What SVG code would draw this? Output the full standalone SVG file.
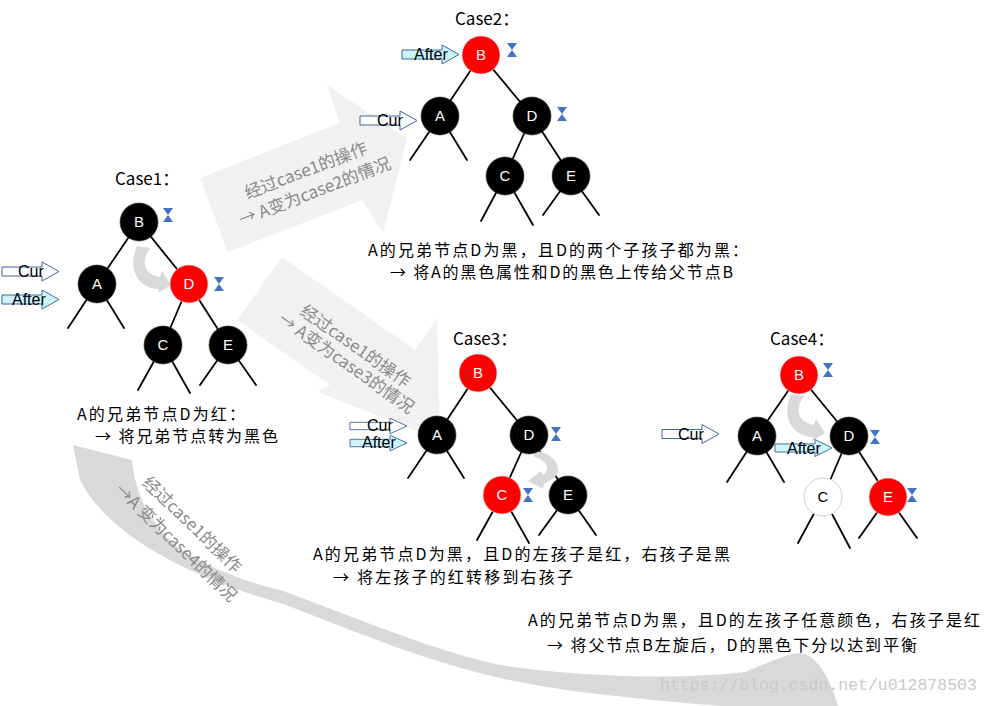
<svg xmlns="http://www.w3.org/2000/svg" xmlns:xlink="http://www.w3.org/1999/xlink" width="991" height="706" viewBox="0 0 991 706">
<style>
.edge{stroke:#000;stroke-width:1.8;fill:none;stroke-linecap:round}
.blk{fill:#000;stroke:#3a3a3a;stroke-width:0.6}
.red{fill:#ff0000;stroke:#e0e0e0;stroke-width:0.6}
.wht{fill:#fff;stroke:#d0d0d0;stroke-width:1}
.nl{font-family:"Liberation Sans",Arial,sans-serif;font-size:15px;fill:#fff;text-anchor:middle}
.nlb{font-family:"Liberation Sans",Arial,sans-serif;font-size:15px;fill:#000;text-anchor:middle}
.ttl{font-family:"Noto Sans CJK SC",sans-serif;font-size:17px;fill:#000}
.desc{font-family:"Noto Sans CJK SC",sans-serif;font-size:16px;fill:#000}
.ptr{font-family:"Liberation Sans",Arial,sans-serif;font-size:16px;fill:#000}
.big{fill:#f1f1f1}
.bend{fill:#d9d9d9}
.lab{font-family:"Noto Sans CJK SC",sans-serif;font-size:17px;fill:#8a8a8a;text-anchor:middle}
.cur{fill:#fff;stroke:#41679c;stroke-width:1}
.aft{fill:#ccf4fb;stroke:#41679c;stroke-width:1}
.hg{fill:#4472c4}
.wm{font-family:"Liberation Mono","Courier New",monospace;font-size:16.5px;fill:#c9c9c9}
</style>
<defs>
<path id="bar" d="M0,-4.5H40V-9.5L57,0L40,9.5V4.5H0Z"/>
<path id="hgl" d="M-5,-7h10l-5,7l5,7h-10l5,-7z"/>
<path id="hook" d="M137,246 L150,248 C143,258 142,269 153,275 L160,277 L162,271 L171,285 L158,293 L159,289 C141,289 126,272 137,246 Z"/>
</defs>

<!-- background big arrows -->
<g id="bigarrows">
<polygon class="big" points="200,178 340,123 327,85 407,138 383,233 362,200 228,252"/>
<polygon class="big" points="282,257 415,350 437,318 440,440 318,392 330,385 237,320"/>
<path class="bend" d="M73,445 L132,460 C135,500 160,540 193,557 C220,572 250,583 280,590 C350,615 430,650 500,665 C580,677 680,680 745,672 C765,664 785,654 800,653 C815,655 828,672 838,706 L720,706 C650,700 560,692 500,678 C420,660 340,625 280,603 C200,580 110,540 80,480 Z"/>
<text class="lab" transform="translate(308,176) rotate(-21)">经过case1的操作</text>
<text class="lab" transform="translate(317,197) rotate(-21)">→ A变为case2的情况</text>
<text class="lab" transform="translate(352,351) rotate(35)">经过case1的操作</text>
<text class="lab" transform="translate(343,368) rotate(35)">→ A变为case3的情况</text>
<text class="lab" transform="translate(188,529) rotate(44)">经过case1的操作</text>
<text class="lab" transform="translate(172,547) rotate(44)">→A 变为case4的情况</text>
</g>

<g id="watermark"><text class="wm" x="660" y="690">https://blog.csdn.net/u012878503</text></g>

<!-- connectors -->
<g id="connectors">
<!-- case1 -->
<line class="edge" x1="139" y1="222" x2="97" y2="284"/>
<line class="edge" x1="139" y1="222" x2="189" y2="284"/>
<line class="edge" x1="97" y1="284" x2="68" y2="328"/>
<line class="edge" x1="97" y1="284" x2="124" y2="328"/>
<line class="edge" x1="189" y1="284" x2="163" y2="345"/>
<line class="edge" x1="189" y1="284" x2="228" y2="345"/>
<line class="edge" x1="163" y1="345" x2="138" y2="390"/>
<line class="edge" x1="163" y1="345" x2="190" y2="393"/>
<line class="edge" x1="228" y1="345" x2="200" y2="385"/>
<line class="edge" x1="228" y1="345" x2="256" y2="385"/>
<!-- case2 -->
<line class="edge" x1="481" y1="55" x2="440" y2="116"/>
<line class="edge" x1="481" y1="55" x2="532" y2="116"/>
<line class="edge" x1="440" y1="116" x2="410" y2="160"/>
<line class="edge" x1="440" y1="116" x2="467" y2="160"/>
<line class="edge" x1="532" y1="116" x2="505" y2="176"/>
<line class="edge" x1="532" y1="116" x2="571" y2="176"/>
<line class="edge" x1="505" y1="176" x2="481" y2="221"/>
<line class="edge" x1="505" y1="176" x2="533" y2="225"/>
<line class="edge" x1="571" y1="176" x2="543" y2="215"/>
<line class="edge" x1="571" y1="176" x2="599" y2="215"/>
<!-- case3 -->
<line class="edge" x1="478" y1="373" x2="437" y2="435"/>
<line class="edge" x1="478" y1="373" x2="529" y2="435"/>
<line class="edge" x1="437" y1="435" x2="408" y2="478"/>
<line class="edge" x1="437" y1="435" x2="464" y2="478"/>
<line class="edge" x1="529" y1="435" x2="502" y2="495"/>
<line class="edge" x1="529" y1="435" x2="568" y2="495"/>
<line class="edge" x1="502" y1="495" x2="477" y2="540"/>
<line class="edge" x1="502" y1="495" x2="529" y2="543"/>
<line class="edge" x1="568" y1="495" x2="539" y2="535"/>
<line class="edge" x1="568" y1="495" x2="596" y2="535"/>
<!-- case4 -->
<line class="edge" x1="799" y1="375" x2="757" y2="436"/>
<line class="edge" x1="799" y1="375" x2="849" y2="436"/>
<line class="edge" x1="757" y1="436" x2="727" y2="482"/>
<line class="edge" x1="757" y1="436" x2="784" y2="482"/>
<line class="edge" x1="849" y1="436" x2="823" y2="497"/>
<line class="edge" x1="849" y1="436" x2="888" y2="497"/>
<line class="edge" x1="823" y1="497" x2="798" y2="543"/>
<line class="edge" x1="823" y1="497" x2="850" y2="548"/>
<line class="edge" x1="888" y1="497" x2="859" y2="538"/>
<line class="edge" x1="888" y1="497" x2="917" y2="538"/>
</g>

<!-- small curved arrows -->
<g id="hooks">
<use href="#hook" class="bend"/>
<use href="#hook" class="bend" transform="translate(654,148)"/>
<path class="bend" d="M534,451 C553,452 565,468 554,478 L544,484 L543,489 L528,481 L541,471 L543,475 C552,468 545,459 534,457 Z"/>
</g>

<!-- Case1 -->
<g id="case1">
<text class="ttl" x="115" y="185">Case1：</text>
<g id="c1-B"><circle class="blk" cx="139" cy="222" r="19"/><text class="nl" x="139" y="227">B</text><use href="#hgl" class="hg" x="168" y="215"/></g>
<g id="c1-A"><circle class="blk" cx="97" cy="284" r="19"/><text class="nl" x="97" y="289">A</text></g>
<g id="c1-D"><circle class="red" cx="189" cy="284" r="19"/><text class="nl" x="189" y="289">D</text><use href="#hgl" class="hg" x="219" y="284"/></g>
<g id="c1-C"><circle class="blk" cx="163" cy="345" r="19"/><text class="nl" x="163" y="350">C</text></g>
<g id="c1-E"><circle class="blk" cx="228" cy="345" r="19"/><text class="nl" x="228" y="350">E</text></g>
<g id="c1-cur"><use href="#bar" class="cur" x="2" y="271.5"/><text class="ptr" x="18" y="277">Cur</text></g>
<g id="c1-after"><use href="#bar" class="aft" x="2" y="299.5"/><text class="ptr" x="12" y="305">After</text></g>
<text class="desc" x="77" y="420" textLength="168">A的兄弟节点D为红：</text>
<text class="desc" x="95" y="442" textLength="183">→ 将兄弟节点转为黑色</text>
</g>

<!-- Case2 -->
<g id="case2">
<text class="ttl" x="455" y="25">Case2：</text>
<g id="c2-B"><circle class="red" cx="481" cy="55" r="19"/><text class="nl" x="481" y="60">B</text><use href="#hgl" class="hg" x="512" y="50"/></g>
<g id="c2-A"><circle class="blk" cx="440" cy="116" r="19"/><text class="nl" x="440" y="121">A</text></g>
<g id="c2-D"><circle class="blk" cx="532" cy="116" r="19"/><text class="nl" x="532" y="121">D</text><use href="#hgl" class="hg" x="562" y="114"/></g>
<g id="c2-C"><circle class="blk" cx="505" cy="176" r="19"/><text class="nl" x="505" y="181">C</text></g>
<g id="c2-E"><circle class="blk" cx="571" cy="176" r="19"/><text class="nl" x="571" y="181">E</text></g>
<g id="c2-after"><use href="#bar" class="aft" x="402" y="54.5"/><text class="ptr" x="414" y="60">After</text></g>
<g id="c2-cur"><use href="#bar" class="cur" x="360" y="120.5"/><text class="ptr" x="377" y="126">Cur</text></g>
<text class="desc" x="368" y="256" textLength="380">A的兄弟节点D为黑，且D的两个子孩子都为黑：</text>
<text class="desc" x="390" y="278" textLength="343">→ 将A的黑色属性和D的黑色上传给父节点B</text>
</g>

<!-- Case3 -->
<g id="case3">
<text class="ttl" x="453" y="345">Case3：</text>
<g id="c3-B"><circle class="red" cx="478" cy="373" r="19"/><text class="nl" x="478" y="378">B</text></g>
<g id="c3-A"><circle class="blk" cx="437" cy="435" r="19"/><text class="nl" x="437" y="440">A</text></g>
<g id="c3-D"><circle class="blk" cx="529" cy="435" r="19"/><text class="nl" x="529" y="440">D</text><use href="#hgl" class="hg" x="556" y="434"/></g>
<g id="c3-C"><circle class="red" cx="502" cy="495" r="19"/><text class="nl" x="502" y="500">C</text><use href="#hgl" class="hg" x="528" y="495"/></g>
<g id="c3-E"><circle class="blk" cx="568" cy="495" r="19"/><text class="nl" x="568" y="500">E</text></g>
<g id="c3-cur"><use href="#bar" class="cur" transform="translate(350,426) scale(1,0.82)"/><text class="ptr" x="367" y="431">Cur</text></g>
<g id="c3-after"><use href="#bar" class="aft" transform="translate(350,443) scale(1,0.82)"/><text class="ptr" x="362" y="448">After</text></g>
<text class="desc" x="313" y="560" textLength="417">A的兄弟节点D为黑，且D的左孩子是红，右孩子是黑</text>
<text class="desc" x="333" y="583" textLength="240">→ 将左孩子的红转移到右孩子</text>
</g>

<!-- Case4 -->
<g id="case4">
<text class="ttl" x="770" y="345">Case4：</text>
<g id="c4-B"><circle class="red" cx="799" cy="375" r="19"/><text class="nl" x="799" y="380">B</text><use href="#hgl" class="hg" x="828" y="370"/></g>
<g id="c4-A"><circle class="blk" cx="757" cy="436" r="19"/><text class="nl" x="757" y="441">A</text></g>
<g id="c4-D"><circle class="blk" cx="849" cy="436" r="19"/><text class="nl" x="849" y="441">D</text><use href="#hgl" class="hg" x="875" y="437"/></g>
<g id="c4-C"><circle class="wht" cx="823" cy="497" r="19"/><text class="nlb" x="823" y="502">C</text></g>
<g id="c4-E"><circle class="red" cx="888" cy="497" r="19"/><text class="nl" x="888" y="502">E</text><use href="#hgl" class="hg" x="912" y="495"/></g>
<g id="c4-cur"><use href="#bar" class="cur" x="662" y="434"/><text class="ptr" x="678" y="440">Cur</text></g>
<g id="c4-after"><use href="#bar" class="aft" transform="translate(775,448) scale(1,0.9)"/><text class="ptr" x="787" y="454">After</text></g>
<text class="desc" x="528" y="626" textLength="452">A的兄弟节点D为黑，且D的左孩子任意颜色，右孩子是红</text>
<text class="desc" x="547" y="651" textLength="370">→ 将父节点B左旋后，D的黑色下分以达到平衡</text>
</g>
</svg>
